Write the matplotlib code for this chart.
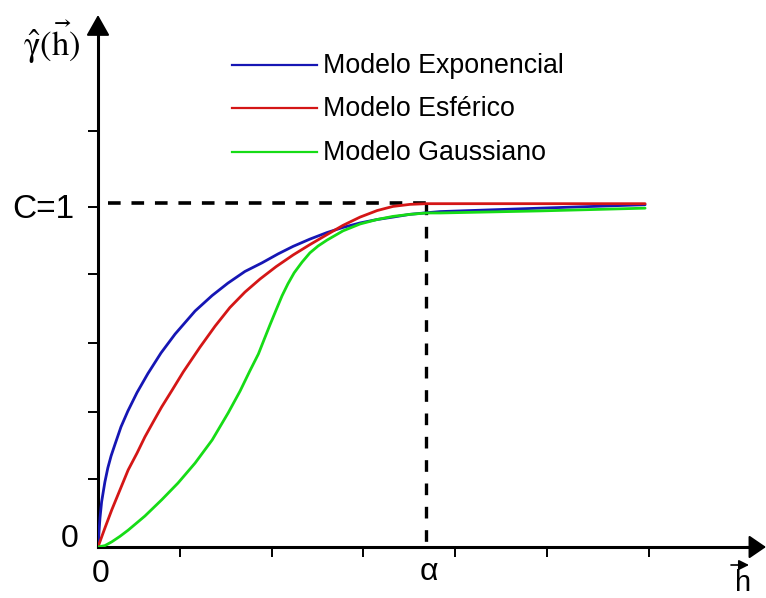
import matplotlib
matplotlib.use('Agg')
import matplotlib.pyplot as plt
from matplotlib.lines import Line2D

plt.rcParams['font.family'] = ['Liberation Sans', 'DejaVu Sans']
plt.rcParams['mathtext.fontset'] = 'stix'

# ---------------- data (h in units of the range a, gamma in units of the sill C) -------------
series_names = ['Modelo Exponencial', 'Modelo Esférico', 'Modelo Gaussiano']
series_colors = ['#1616b4', '#d41616', '#16dc16']

exp_h = [0.0, 0.003, 0.006, 0.011, 0.017, 0.021, 0.030, 0.040, 0.052, 0.070, 0.091,
         0.119, 0.152, 0.192, 0.235, 0.296, 0.348, 0.396, 0.448, 0.500, 0.549, 0.595,
         0.646, 0.698, 0.747, 0.799, 0.851, 0.899, 0.951, 1.006, 1.043, 1.348, 1.668]
exp_g = [0.0, 0.044, 0.084, 0.131, 0.166, 0.189, 0.230, 0.265, 0.299, 0.349, 0.395,
         0.449, 0.504, 0.564, 0.619, 0.686, 0.731, 0.767, 0.801, 0.826, 0.852, 0.874,
         0.895, 0.914, 0.929, 0.942, 0.952, 0.959, 0.967, 0.972, 0.975, 0.985, 0.995]

sph_h = [0.0, 0.021, 0.042, 0.067, 0.092, 0.119, 0.143, 0.168, 0.194, 0.226, 0.260,
         0.311, 0.357, 0.402, 0.448, 0.494, 0.543, 0.595, 0.646, 0.698, 0.747, 0.799,
         0.851, 0.899, 0.951, 1.0, 1.043, 1.668]
sph_g = [0.0, 0.055, 0.108, 0.166, 0.224, 0.273, 0.320, 0.363, 0.407, 0.456, 0.509,
         0.581, 0.642, 0.696, 0.741, 0.779, 0.815, 0.849, 0.879, 0.908, 0.935, 0.959,
         0.978, 0.990, 0.996, 0.998, 0.998, 0.998]

gau_h = [0.0, 0.021, 0.042, 0.067, 0.092, 0.143, 0.194, 0.244, 0.296, 0.348, 0.397,
         0.433, 0.463, 0.489, 0.506, 0.524, 0.543, 0.561, 0.579, 0.598, 0.622, 0.646,
         0.671, 0.698, 0.747, 0.799, 0.851, 0.899, 0.951, 1.003, 1.043, 1.348, 1.668]
gau_g = [0.0, 0.004, 0.015, 0.031, 0.049, 0.090, 0.137, 0.186, 0.244, 0.311, 0.390,
         0.453, 0.512, 0.561, 0.602, 0.645, 0.689, 0.730, 0.765, 0.797, 0.828, 0.855,
         0.875, 0.892, 0.919, 0.939, 0.952, 0.961, 0.967, 0.971, 0.971, 0.977, 0.985]

x_ticks = [0.25, 0.53, 0.808, 1.088, 1.369, 1.68]
y_ticks = [0.198, 0.392, 0.593, 0.794, 0.988, 1.209]
sill = 1.0
range_a = 1.0
x_max = 2.0366
y_max = 1.5465

# ---------------- figure -------------------------------------------------------------------
W, H = 766, 598
fig = plt.figure(figsize=(W / 100, H / 100), dpi=100)
ax = fig.add_axes([98 / W, 51 / H, 668 / W, 532 / H])
ax.set_xlim(0, x_max)
ax.set_ylim(0, y_max)

for s in ['top', 'right']:
    ax.spines[s].set_visible(False)
for s in ['left', 'bottom']:
    ax.spines[s].set_linewidth(2.2)
    ax.spines[s].set_capstyle('projecting')
ax.spines['left'].set_bounds(0, y_max - 0.04)
ax.spines['bottom'].set_bounds(0, x_max - 0.03)

ax.set_xticks(x_ticks)
ax.set_yticks(y_ticks)
ax.set_xticklabels([])
ax.set_yticklabels([])
ax.tick_params(direction='out', length=7.2, width=1.4, color='black')

# axis arrowheads
ax.annotate('', xy=(0, y_max), xytext=(0, y_max - 0.06),
            arrowprops=dict(arrowstyle='-|>,head_length=0.85,head_width=0.48',
                            mutation_scale=15, lw=1.5, color='black',
                            shrinkA=0, shrinkB=0),
            annotation_clip=False)
ax.annotate('', xy=(x_max, 0), xytext=(x_max - 0.06, 0),
            arrowprops=dict(arrowstyle='-|>,head_length=0.7,head_width=0.48',
                            mutation_scale=15, lw=1.5, color='black',
                            shrinkA=0, shrinkB=0),
            annotation_clip=False)

# dashed guides (sill and range)
ax.plot([0.03, range_a], [sill, sill], color='black', lw=2.6,
        linestyle=(0, (3.5, 3.0)), zorder=2, solid_capstyle='butt')
ax.plot([range_a, range_a], [sill, 0], color='black', lw=2.4,
        linestyle=(0, (3.5, 3.5)), zorder=2)

# model curves
curves = [(exp_h, exp_g), (sph_h, sph_g), (gau_h, gau_g)]
for (hx, gy), c in zip(curves, series_colors):
    ax.plot(hx, gy, color=c, lw=2.0, zorder=3, solid_joinstyle='round',
            solid_capstyle='round')

# manual legend
legend_rows = [64.5, 108, 152]
legend_base = [73, 116.5, 160.5]
for name, c, yl, yb in zip(series_names, series_colors, legend_rows, legend_base):
    fig.add_artist(Line2D([232 / W, 317 / W], [1 - yl / H, 1 - yl / H], color=c, lw=1.6))
    fig.text(323 / W, 1 - yb / H, name, ha='left', va='baseline', fontsize=19.3)

# labels
fig.text(74 / W, 1 - 218 / H, 'C=1', ha='right', va='baseline', fontsize=24)
fig.text(70 / W, 1 - 547 / H, '0', ha='center', va='baseline', fontsize=23)
fig.text(101 / W, 1 - 582 / H, '0', ha='center', va='baseline', fontsize=23)
fig.text(429 / W, 1 - 580 / H, 'α', ha='center', va='baseline', fontsize=23)
fig.text(743 / W, 1 - 591 / H, 'h', ha='center', va='baseline', fontsize=21)
ax.annotate('', xy=(749, H - 565), xytext=(731, H - 565),
            xycoords='figure pixels', textcoords='figure pixels',
            arrowprops=dict(arrowstyle='-|>,head_length=0.5,head_width=0.25',
                            mutation_scale=12, lw=1.2, color='black',
                            shrinkA=0, shrinkB=0),
            annotation_clip=False)
fig.text(52 / W, 1 - 56 / H, r'$\mathrm{\hat{\gamma}(\vec{h})}$', ha='center',
         va='baseline', fontsize=25)

fig.savefig('out.png', dpi=100)
